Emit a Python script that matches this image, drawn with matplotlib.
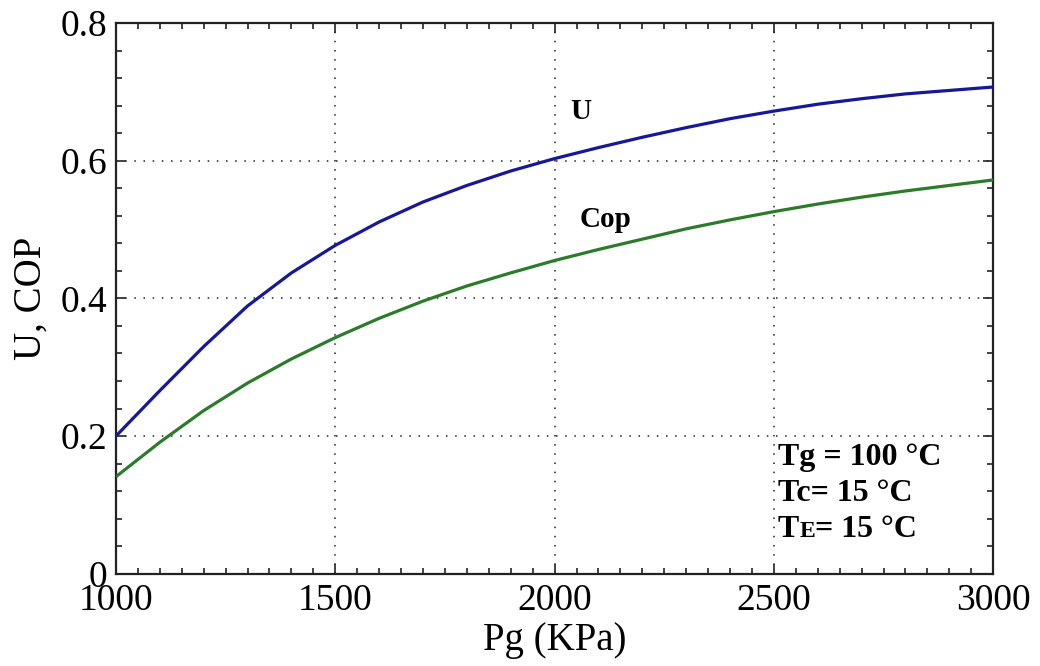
import matplotlib
matplotlib.use("Agg")
import matplotlib.pyplot as plt
from matplotlib import ticker
from matplotlib.offsetbox import TextArea, HPacker, VPacker, AnnotationBbox

# Generator pressure (kPa)
pg = [1000, 1100, 1200, 1300, 1400, 1500, 1600, 1700, 1800, 1900, 2000,
      2100, 2200, 2300, 2400, 2500, 2600, 2700, 2800, 2900, 3000]
# Utilisation factor U
u = [0.200, 0.266, 0.330, 0.389, 0.437, 0.477, 0.511, 0.540, 0.564, 0.585, 0.603,
     0.619, 0.634, 0.648, 0.661, 0.672, 0.682, 0.690, 0.697, 0.702, 0.707]
# Coefficient of performance
cop = [0.141, 0.191, 0.237, 0.277, 0.312, 0.343, 0.371, 0.396, 0.418, 0.437, 0.455,
       0.471, 0.486, 0.501, 0.514, 0.526, 0.537, 0.547, 0.556, 0.564, 0.572]

x_ticks = [1000, 1500, 2000, 2500, 3000]
y_ticks = [0, 0.2, 0.4, 0.6, 0.8]

serif = "Liberation Serif"

fig = plt.figure(figsize=(10.4, 6.66), dpi=100)
ax = fig.add_axes([0.1115, 0.1385, 0.8435, 0.827])

ax.plot(pg, u, color="#17179a", lw=2.3, solid_capstyle="butt",
        solid_joinstyle="round", zorder=3)
ax.plot(pg, cop, color="#2b7b2b", lw=2.3, solid_capstyle="butt",
        solid_joinstyle="round", zorder=3)

ax.set_xlim(1000, 3000)
ax.set_ylim(0, 0.8)
ax.set_xticks(x_ticks)
ax.set_yticks(y_ticks)
ax.xaxis.set_minor_locator(ticker.MultipleLocator(50))
ax.yaxis.set_minor_locator(ticker.MultipleLocator(0.04))
ax.yaxis.set_major_formatter(ticker.FuncFormatter(lambda v, p: f"{v:g}"))

ax.grid(True, which="major", color="#222222", linestyle=(0, (1, 5)), lw=1.1)
ax.set_axisbelow(True)

ax.tick_params(which="both", direction="in", top=True, right=True,
               color="#222222", width=1.2)
ax.tick_params(which="major", length=7, labelsize=27, pad=6)
ax.tick_params(which="minor", length=4)
ax.tick_params(axis="x", which="major", pad=7)
for lab in ax.get_xticklabels() + ax.get_yticklabels():
    lab.set_family(serif)

for s in ax.spines.values():
    s.set_color("#222222")
    s.set_linewidth(1.6)

ax.set_xlabel("Pg (KPa)", fontsize=28, family=serif, labelpad=3)
ax.set_ylabel("U, COP", fontsize=28, family=serif, labelpad=8)

# Curve labels
ax.text(2060, 0.672, "U", fontsize=21, family=serif, weight="bold",
        ha="center", va="center")
ax.text(2117, 0.515, "Cop", fontsize=21, family=serif, weight="bold",
        ha="center", va="center")

# Operating conditions
big = dict(family=serif, weight="bold", size=23)
small = dict(family=serif, weight="bold", size=17)
line1 = HPacker(children=[TextArea("Tg = 100 °C", textprops=big)],
                align="baseline", pad=0, sep=0)
line2 = HPacker(children=[TextArea("Tc= 15 °C", textprops=big)],
                align="baseline", pad=0, sep=0)
line3 = HPacker(children=[TextArea("T", textprops=big),
                          TextArea("E", textprops=small),
                          TextArea("= 15 °C", textprops=big)],
                align="baseline", pad=0, sep=0)
block = VPacker(children=[line1, line2, line3], align="left", pad=0, sep=5)
ab = AnnotationBbox(block, (0.7546, 0.238), xycoords="axes fraction",
                    box_alignment=(0, 1), frameon=False, pad=0)
ax.add_artist(ab)

fig.savefig("out.png", dpi=100, facecolor="white")
